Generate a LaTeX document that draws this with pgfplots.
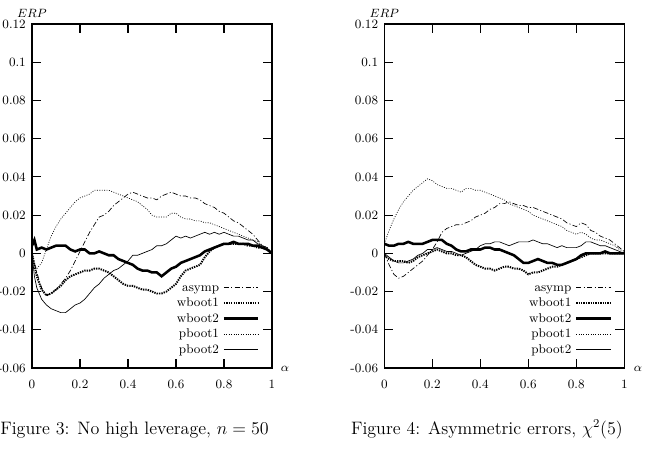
\documentclass[border=0pt]{standalone}
\usepackage{pgfplots}
\pgfplotsset{compat=1.18}
\usepackage{pgfplotstable}

\pgfplotstableread{
x    asymp   wbA     wbB     pbA     pbB
0.00  0.000   0.000   0.004  -0.001   0.000
0.01 -0.005  -0.006   0.007  -0.006  -0.012
0.02 -0.010  -0.012   0.002  -0.008  -0.018
0.04 -0.018  -0.019   0.003  -0.005  -0.024
0.06 -0.022  -0.022   0.002   0.002  -0.027
0.08 -0.021  -0.021   0.003   0.009  -0.029
0.10 -0.019  -0.019   0.004   0.014  -0.030
0.12 -0.016  -0.017   0.004   0.018  -0.031
0.14 -0.013  -0.014   0.004   0.021  -0.031
0.16 -0.009  -0.012   0.002   0.024  -0.029
0.18 -0.004  -0.011   0.001   0.027  -0.027
0.20  0.001  -0.010   0.002   0.029  -0.026
0.22  0.006  -0.009   0.002   0.030  -0.024
0.24  0.011  -0.009   0.000   0.031  -0.021
0.26  0.015  -0.008   0.000   0.033  -0.018
0.28  0.019  -0.008   0.001   0.033  -0.016
0.30  0.020  -0.009   0.000   0.033  -0.013
0.32  0.022  -0.010  -0.001   0.033  -0.011
0.34  0.025  -0.012  -0.001   0.032  -0.009
0.36  0.027  -0.014  -0.003   0.031  -0.008
0.38  0.029  -0.016  -0.004   0.030  -0.006
0.40  0.031  -0.017  -0.005   0.029  -0.004
0.42  0.032  -0.017  -0.006   0.028  -0.001
0.44  0.031  -0.018  -0.008   0.027  -0.001
0.46  0.030  -0.019  -0.009   0.025   0.000
0.48  0.029  -0.019  -0.009   0.023   0.001
0.50  0.029  -0.020  -0.010   0.020   0.002
0.52  0.028  -0.021  -0.010   0.019   0.004
0.54  0.030  -0.021  -0.012   0.019   0.004
0.56  0.031  -0.020  -0.010   0.019   0.005
0.58  0.032  -0.018  -0.008   0.021   0.007
0.60  0.031  -0.016  -0.007   0.021   0.009
0.62  0.030  -0.012  -0.005   0.019   0.008
0.64  0.030  -0.009  -0.004   0.018   0.009
0.66  0.029  -0.008  -0.003   0.018   0.008
0.68  0.029  -0.007  -0.002   0.017   0.009
0.70  0.028  -0.006  -0.001   0.017   0.010
0.72  0.026  -0.002   0.001   0.016   0.011
0.74  0.025   0.001   0.002   0.016   0.010
0.76  0.024   0.003   0.003   0.015   0.011
0.78  0.022   0.004   0.004   0.014   0.010
0.80  0.021   0.005   0.005   0.013   0.011
0.82  0.019   0.005   0.005   0.012   0.010
0.84  0.017   0.005   0.006   0.011   0.009
0.86  0.016   0.005   0.005   0.010   0.009
0.88  0.014   0.005   0.005   0.009   0.008
0.90  0.012   0.004   0.005   0.008   0.007
0.92  0.010   0.004   0.004   0.007   0.007
0.94  0.007   0.003   0.004   0.006   0.005
0.96  0.004   0.003   0.003   0.004   0.004
0.98  0.003   0.002   0.002   0.003   0.002
1.00  0.000   0.000   0.000   0.000   0.000
}\leftdata

\pgfplotstableread{
x    asymp   wbA     wbB     pbA     pbB
0.00  0.000  -0.001   0.005   0.005   0.000
0.02 -0.006  -0.003   0.004   0.012  -0.002
0.04 -0.011  -0.004   0.004   0.018  -0.004
0.06 -0.013  -0.004   0.005   0.023  -0.005
0.08 -0.012  -0.004   0.005   0.027  -0.005
0.10 -0.010  -0.005   0.006   0.030  -0.004
0.12 -0.008  -0.004   0.005   0.033  -0.003
0.14 -0.006  -0.002   0.005   0.035  -0.001
0.16 -0.004  -0.001   0.005   0.037   0.000
0.18 -0.001   0.000   0.006   0.039   0.002
0.20  0.002   0.001   0.007   0.038   0.002
0.22  0.006   0.002   0.007   0.036   0.003
0.24  0.011   0.001   0.007   0.035   0.002
0.26  0.013   0.000   0.005   0.034   0.001
0.28  0.014   0.000   0.004   0.034   0.001
0.30  0.015  -0.001   0.002   0.033   0.000
0.32  0.015  -0.001   0.001   0.032  -0.001
0.34  0.016  -0.002   0.001   0.034   0.000
0.36  0.017  -0.004   0.002   0.034   0.001
0.38  0.019  -0.006   0.002   0.033   0.002
0.40  0.020  -0.007   0.002   0.033   0.004
0.42  0.021  -0.008   0.003   0.032   0.005
0.44  0.023  -0.008   0.003   0.031   0.005
0.46  0.024  -0.009   0.002   0.030   0.006
0.48  0.026  -0.008   0.002   0.029   0.006
0.50  0.026  -0.007   0.001   0.028   0.005
0.52  0.027  -0.007   0.000   0.026   0.004
0.54  0.026  -0.008  -0.001   0.025   0.005
0.56  0.025  -0.008  -0.003   0.024   0.006
0.58  0.025  -0.009  -0.005   0.023   0.006
0.60  0.024  -0.011  -0.005   0.022   0.006
0.62  0.024  -0.010  -0.004   0.020   0.007
0.64  0.023  -0.010  -0.003   0.019   0.006
0.66  0.022  -0.009  -0.004   0.018   0.005
0.68  0.021  -0.008  -0.005   0.017   0.005
0.70  0.020  -0.007  -0.005   0.016   0.004
0.72  0.019  -0.007  -0.006   0.015   0.003
0.74  0.018  -0.006  -0.006   0.014   0.004
0.76  0.016  -0.005  -0.005   0.012   0.003
0.78  0.015  -0.004  -0.004   0.011   0.003
0.80  0.014  -0.003  -0.003   0.010   0.003
0.82  0.016  -0.002  -0.001   0.011   0.004
0.84  0.015  -0.001   0.000   0.010   0.006
0.86  0.012   0.000   0.000   0.008   0.006
0.88  0.011   0.000   0.000   0.007   0.005
0.90  0.009   0.000   0.000   0.007   0.004
0.92  0.008   0.000   0.001   0.006   0.004
0.94  0.007   0.000   0.000   0.005   0.003
0.96  0.005   0.000   0.000   0.004   0.002
0.98  0.003   0.000   0.000   0.002   0.001
1.00  0.001   0.000   0.000   0.001   0.000
}\rightdata

\newcommand{\gfont}{\fontsize{8.5}{10}\selectfont}

\pgfplotsset{
  erpaxis/.style={
    scale only axis, width=160pt, height=229.33pt,
    xmin=0, xmax=1, ymin=-0.06, ymax=0.12,
    xtick={0,0.2,0.4,0.6,0.8,1},
    xticklabels={0,0.2,0.4,0.6,0.8,1},
    ytick={-0.06,-0.04,-0.02,0,0.02,0.04,0.06,0.08,0.1,0.12},
    yticklabels={-0.06,-0.04,-0.02,0,0.02,0.04,0.06,0.08,0.1,0.12},
    tick align=inside, major tick length=6pt,
    every tick/.style={line width=0.8pt, black},
    axis line style={line width=0.8pt},
    tick label style={font=\gfont},
    xticklabel style={yshift=-4.5pt},
    yticklabel style={xshift=-0.6pt},
    legend plot pos=right,
    legend cell align=right,
    legend style={draw=none, fill=none, at={(0.95,0.034)}, anchor=south east,
      inner sep=0pt, font=\gfont, row sep=1.8pt,
      nodes={inner ysep=0pt, inner xsep=2.4pt, text height=6.5pt, text depth=2pt}},
    legend image code/.code={\draw[#1] (0pt,0.15pt) -- (23pt,0.15pt);},
  },
  asympst/.style={black, line width=0.45pt, dash pattern=on 3.5pt off 1.5pt on 0.7pt off 1.5pt},
  wbAst/.style={black, line width=1.3pt, dash pattern=on 0.9pt off 0.7pt},
  wbBst/.style={black, line width=1.7pt},
  pbAst/.style={black, line width=0.45pt, dash pattern=on 0.6pt off 1pt},
  pbBst/.style={black, line width=0.45pt},
}

\begin{document}
\begin{tikzpicture}
\path[use as bounding box] (0pt,0pt) rectangle (432.67pt,302.67pt);

\begin{axis}[erpaxis, at={(21.33pt,57.33pt)}, anchor=south west]
\addplot[asympst] table[x=x, y=asymp] {\leftdata};
\addlegendentry{asymp}
\addplot[wbAst] table[x=x, y=wbA] {\leftdata};
\addlegendentry{wboot1}
\addplot[wbBst] table[x=x, y=wbB] {\leftdata};
\addlegendentry{wboot2}
\addplot[pbAst] table[x=x, y=pbA] {\leftdata};
\addlegendentry{pboot1}
\addplot[pbBst] table[x=x, y=pbB] {\leftdata};
\addlegendentry{pboot2}
\end{axis}

\begin{axis}[erpaxis, at={(256.2pt,57.33pt)}, anchor=south west]
\addplot[asympst] table[x=x, y=asymp] {\rightdata};
\addlegendentry{asymp}
\addplot[wbAst] table[x=x, y=wbA] {\rightdata};
\addlegendentry{wboot1}
\addplot[wbBst] table[x=x, y=wbB] {\rightdata};
\addlegendentry{wboot2}
\addplot[pbAst] table[x=x, y=pbA] {\rightdata};
\addlegendentry{pboot1}
\addplot[pbBst] table[x=x, y=pbB] {\rightdata};
\addlegendentry{pboot2}
\end{axis}

\node[font=\gfont] at (21.33pt,294pt) {$ERP$};
\node[font=\gfont] at (256.2pt,294pt) {$ERP$};
\node[font=\gfont] at (190pt,57pt) {$\alpha$};
\node[font=\gfont] at (425.3pt,57pt) {$\alpha$};

\node[anchor=base west, inner sep=0pt, font=\fontsize{12}{14}\selectfont] at (0pt,13pt) {Figure 3: No high leverage, $n=50$};
\node[anchor=base west, inner sep=0pt, font=\fontsize{12}{14}\selectfont] at (233.8pt,13.3pt) {Figure 4: Asymmetric errors, $\chi^2(5)$};
\end{tikzpicture}
\end{document}
